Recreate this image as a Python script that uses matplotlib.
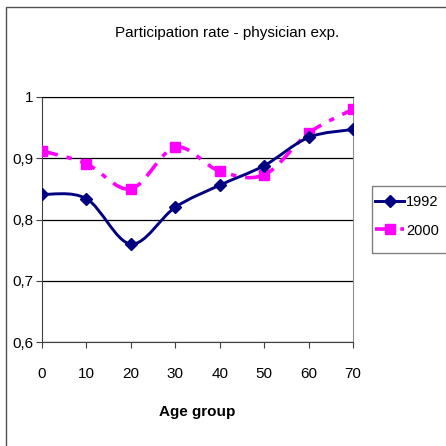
import numpy as np
import matplotlib
matplotlib.use("Agg")
import matplotlib.pyplot as plt
from matplotlib.path import Path
from matplotlib.patches import PathPatch, Rectangle
from matplotlib.lines import Line2D

plt.rcParams['font.family'] = ['Liberation Sans', 'DejaVu Sans']

age = [0, 10, 20, 30, 40, 50, 60, 70]
rate_1992 = [0.841, 0.834, 0.760, 0.820, 0.856, 0.888, 0.934, 0.947]
rate_2000 = [0.912, 0.891, 0.850, 0.918, 0.879, 0.873, 0.941, 0.980]
yticks = [0.6, 0.7, 0.8, 0.9, 1.0]
ylabels = ['0,6', '0,7', '0,8', '0,9', '1']


def smooth_path(x, y, t=1.0 / 6):
    # Catmull-Rom style bezier through the points (like Excel smoothed lines)
    x = np.asarray(x, float)
    y = np.asarray(y, float)
    verts = [(x[0], y[0])]
    codes = [Path.MOVETO]
    n = len(x)
    for i in range(n - 1):
        p0 = (x[max(i - 1, 0)], y[max(i - 1, 0)])
        p1 = (x[i], y[i])
        p2 = (x[i + 1], y[i + 1])
        p3 = (x[min(i + 2, n - 1)], y[min(i + 2, n - 1)])
        c1 = (p1[0] + (p2[0] - p0[0]) * t, p1[1] + (p2[1] - p0[1]) * t)
        c2 = (p2[0] - (p3[0] - p1[0]) * t, p2[1] - (p3[1] - p1[1]) * t)
        verts += [c1, c2, p2]
        codes += [Path.CURVE4] * 3
    return Path(verts, codes)


fig = plt.figure(figsize=(4.46, 4.46), dpi=100)
# chart border
fig.add_artist(Rectangle((6 / 446, -0.1), 1.2, 1 - 7 / 446 + 0.1, transform=fig.transFigure,
                         fill=False, edgecolor='#505050', linewidth=1.0))
# legend box (runs off the right edge like the reference)
fig.add_artist(Rectangle((372 / 446, 1 - 253 / 446), 0.3, 67 / 446, transform=fig.transFigure,
                         fill=False, edgecolor='#808080', linewidth=1.0))

ax = fig.add_axes([42 / 446, 1 - 342 / 446, 311 / 446, 245 / 446])

navy = '#000080'
mag = '#FF00FF'
dash = (0, (4.5, 2.5, 1.5, 2.5))

ax.add_patch(PathPatch(smooth_path(age, rate_2000), fill=False, edgecolor=mag,
                       linewidth=2.6, linestyle=dash, zorder=3))
ax.plot(age, rate_2000, linestyle='none', marker='s', markersize=7.5,
        color=mag, zorder=4)
ax.add_patch(PathPatch(smooth_path(age, rate_1992), fill=False, edgecolor=navy,
                       linewidth=2.1, zorder=5))
ax.plot(age, rate_1992, linestyle='none', marker='D', markersize=6,
        color=navy, zorder=6)

ax.set_xlim(0, 70)
ax.set_ylim(0.6, 1.0)
ax.set_xticks(age)
ax.set_yticks(yticks)
ax.set_yticklabels(ylabels)
ax.grid(axis='y', color='black', linewidth=0.9)
ax.set_axisbelow(True)
ax.tick_params(axis='both', direction='out', length=4, width=0.8, color='#404040',
               labelsize=11)
ax.tick_params(axis='x', pad=14)
ax.tick_params(axis='y', pad=2)
for s in ['left', 'bottom']:
    ax.spines[s].set_color('#404040')
ax.spines['right'].set_color('#909090')
ax.spines['top'].set_color('black')

ax.set_xlabel('Age group', fontsize=11, fontweight='bold', labelpad=17)
fig.text(227 / 446, 1 - 33 / 446, 'Participation rate - physician exp.',
         ha='center', va='center', fontsize=11)

handles = [Line2D([], [], color=navy, linewidth=2.1, marker='D', markersize=6),
           Line2D([], [], color=mag, linewidth=2.6, linestyle=dash, marker='s', markersize=7.5)]
leg = fig.legend(handles, ['1992', '2000'], loc='upper left',
                 bbox_to_anchor=(375 / 446, 1 - 195 / 446), fontsize=10.5,
                 frameon=False, handlelength=2.0, handletextpad=0.15,
                 borderpad=0.0, labelspacing=1.0, borderaxespad=0)

fig.savefig('out.png', dpi=100, facecolor='white')
